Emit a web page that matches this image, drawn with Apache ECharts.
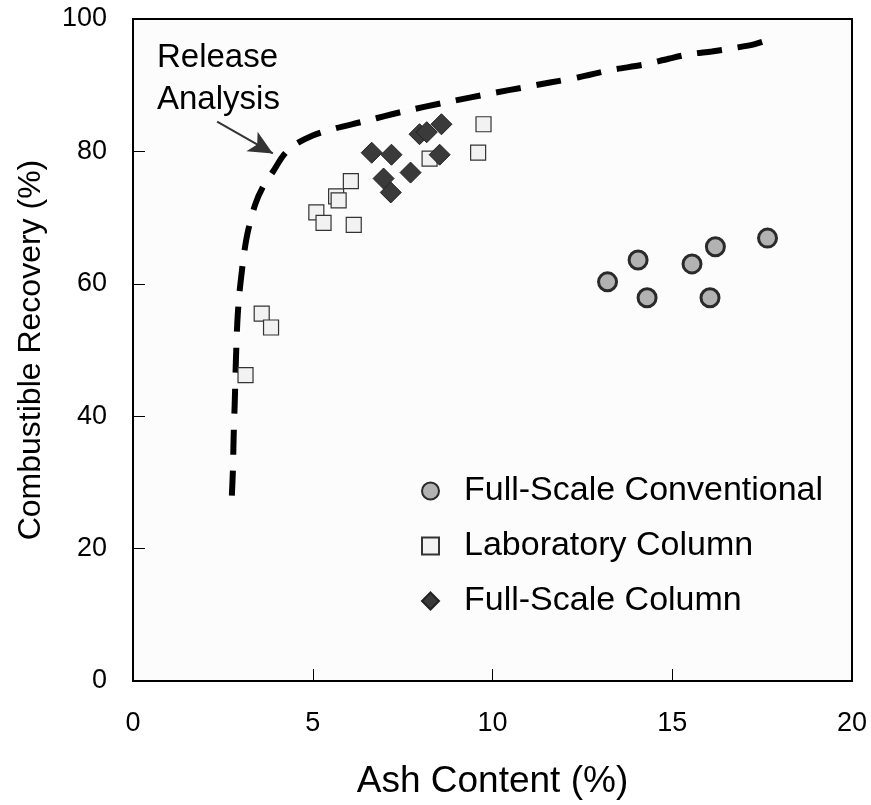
<!DOCTYPE html>
<html>
<head>
<meta charset="utf-8">
<style>
html,body{margin:0;padding:0;background:#ffffff;}
#chart{width:871px;height:805px;}
</style>
<script src="https://cdn.jsdelivr.net/npm/echarts@6/dist/echarts.min.js"></script>
</head>
<body>
<div id="chart"></div>
<script>
// ---- Data ----
const xTickLabels = ['0', '5', '10', '15', '20'];
const yTickLabels = ['0', '20', '40', '60', '80', '100'];

const conventionalAsh = [13.2, 14.05, 14.3, 15.55, 16.2, 16.05, 17.65];
const conventionalRec = [60.3, 63.6, 57.9, 63.0, 65.6, 57.9, 66.9];

const labColumnAsh = [9.75, 9.6, 8.25, 6.06, 5.65, 5.72, 5.1, 5.3, 6.14, 3.58, 3.84, 3.13];
const labColumnRec = [84.1, 79.8, 78.9, 75.5, 73.2, 72.6, 70.8, 69.2, 68.9, 55.5, 53.4, 46.2];

const fullColumnAsh = [8.58, 7.97, 8.17, 8.53, 6.64, 7.19, 7.72, 6.97, 7.17];
const fullColumnRec = [84.1, 82.6, 82.9, 79.5, 79.8, 79.5, 76.8, 75.9, 73.8];

const releaseAsh = [2.75, 2.78, 2.8, 2.83, 2.86, 2.9, 2.95, 3.03, 3.1, 3.2, 3.4, 3.6, 3.9, 4.2, 4.5, 5.0, 5.5, 6.4, 7.5, 8.7, 10.1, 10.8, 11.6, 12.4, 13.3, 14.2, 14.9, 15.5, 16.1, 16.7, 17.3, 17.85];
const releaseRec = [28, 32, 37, 42, 48, 54, 58, 62, 65, 68, 72, 74.5, 77, 79.5, 81, 82.4, 83.3, 84.5, 86, 87.4, 88.9, 89.6, 90.4, 91.2, 92.3, 93.1, 94.0, 94.7, 95.1, 95.6, 96.2, 97.2];

const seriesNames = ['Full-Scale Conventional', 'Laboratory Column', 'Full-Scale Column'];
const annotationText = 'Release\nAnalysis';
const arrowFrom = [2.34, 84.5];
const arrowTo = [3.89, 79.7];

const pairs = (xs, ys) => xs.map((x, i) => [x, ys[i]]);

const FONT = '"Liberation Sans", Arial, Helvetica, sans-serif';

const chart = echarts.init(document.getElementById('chart'), null, {renderer: 'canvas'});

const option = {
  backgroundColor: '#ffffff',
  animation: false,
  grid: {
    left: 133, right: 19, top: 19, bottom: 121,
    show: true, backgroundColor: '#fcfcfc', borderColor: '#000', borderWidth: 2
  },
  legend: {
    orient: 'vertical',
    left: 416, top: 469,
    itemWidth: 17, itemHeight: 17, itemGap: 21,
    data: seriesNames,
    textStyle: { fontFamily: FONT, fontSize: 34, color: '#000', lineHeight: 34, padding: [0, 0, 0, 20] }
  },
  xAxis: {
    type: 'value', min: 0, max: 20, interval: 5,
    name: 'Ash Content (%)', nameLocation: 'middle', nameGap: 82,
    nameTextStyle: { fontFamily: FONT, fontSize: 37, color: '#000' },
    axisLine: { show: true, lineStyle: { color: '#000', width: 2 } },
    axisTick: { show: true, inside: true, length: 12, lineStyle: { color: '#000', width: 1 } },
    axisLabel: { fontFamily: FONT, fontSize: 27, color: '#000', margin: 29,
      formatter: v => xTickLabels[Math.round(v / 5)] },
    splitLine: { show: false }
  },
  yAxis: {
    type: 'value', min: 0, max: 100, interval: 20,
    name: 'Combustible Recovery (%)', nameLocation: 'middle', nameGap: 86,
    nameTextStyle: { fontFamily: FONT, fontSize: 32, color: '#000' },
    axisLine: { show: true, lineStyle: { color: '#000', width: 2 } },
    axisTick: { show: true, inside: true, length: 12, lineStyle: { color: '#000', width: 1 } },
    axisLabel: { fontFamily: FONT, fontSize: 27, color: '#000', margin: 26, padding: [6, 0, 0, 0],
      formatter: v => yTickLabels[Math.round(v / 20)] },
    splitLine: { show: false }
  },
  graphic: [{
    type: 'text', left: 157, top: 37, silent: true,
    style: { text: annotationText, font: '33px ' + FONT, fill: '#000', lineHeight: 42 }
  }],
  series: [
    {
      name: 'Release Analysis', type: 'line', data: pairs(releaseAsh, releaseRec),
      showSymbol: false, symbol: 'none', smooth: 0.3,
      lineStyle: { color: '#000', width: 6, type: [25, 16], cap: 'butt' },
      z: 2,
      markLine: {
        silent: true, animation: false,
        symbol: ['none', 'arrow'], symbolSize: 16,
        lineStyle: { color: '#333', width: 2, type: 'solid' },
        label: { show: false },
        data: [[
          { coord: arrowFrom, symbol: 'none' },
          { coord: arrowTo, symbol: 'arrow', symbolSize: [17, 24] }
        ]]
      }
    },
    {
      name: seriesNames[0], type: 'scatter', data: pairs(conventionalAsh, conventionalRec),
      symbol: 'circle', symbolSize: 18,
      itemStyle: { color: '#b2b2b2', borderColor: '#2a2a2a', borderWidth: 3, opacity: 1 },
      z: 3
    },
    {
      name: seriesNames[1], type: 'scatter', data: pairs(labColumnAsh, labColumnRec),
      symbol: 'rect', symbolSize: 15,
      itemStyle: { color: '#f2f2f2', borderColor: '#333', borderWidth: 1.2, opacity: 1 },
      z: 3
    },
    {
      name: seriesNames[2], type: 'scatter', data: pairs(fullColumnAsh, fullColumnRec),
      symbol: 'diamond', symbolSize: 21,
      itemStyle: { color: '#3a3a3a', borderColor: '#222', borderWidth: 1, opacity: 1 },
      z: 4
    }
  ]
};

chart.setOption(option);
</script>
</body>
</html>
